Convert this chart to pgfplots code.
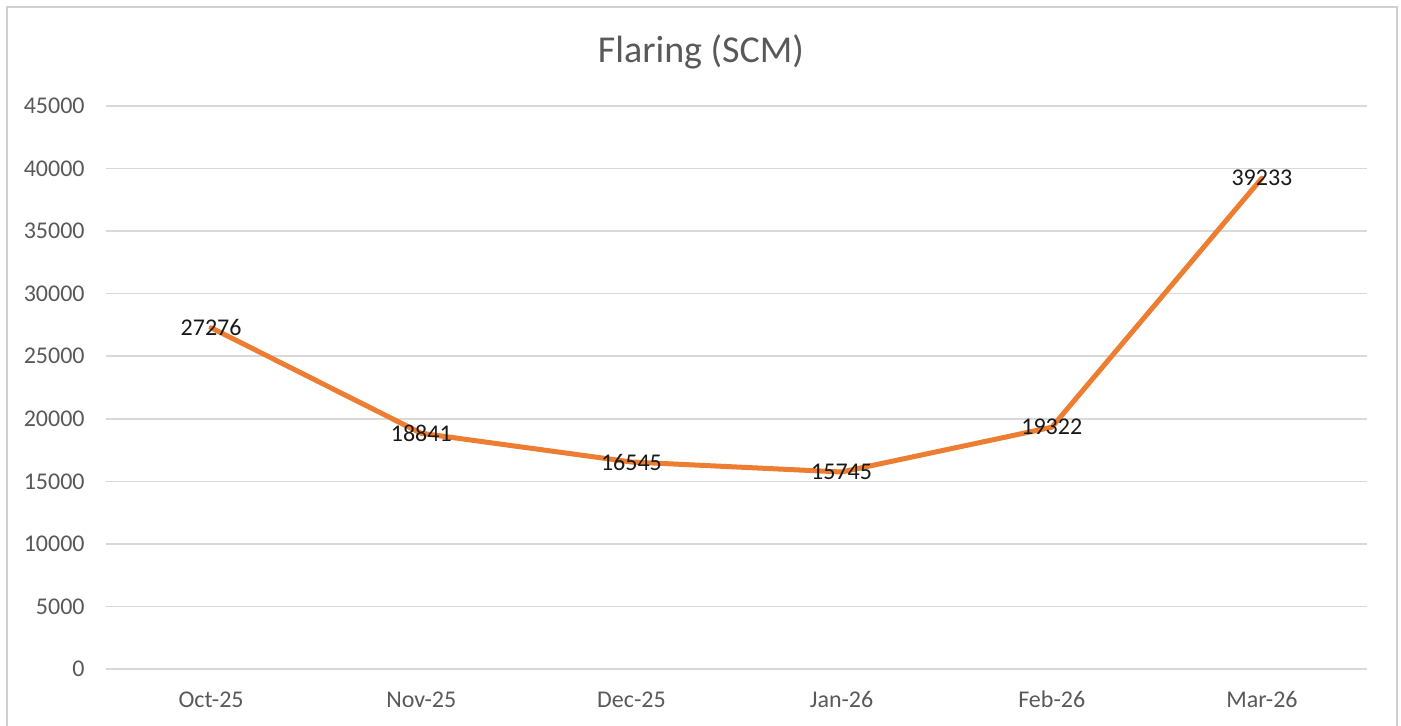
\documentclass[border=0pt]{standalone}
\usepackage{pgfplots}
\pgfplotsset{compat=1.18}
\usepackage{fontspec}
\setmainfont{Carlito}
\definecolor{linec}{HTML}{ED7D31}
\definecolor{gridc}{HTML}{D9D9D9}
\definecolor{txtc}{HTML}{595959}
\definecolor{borderc}{HTML}{D0D0D0}
\begin{document}
\begin{tikzpicture}[x=1pt,y=1pt]
\useasboundingbox (0,0) rectangle (700.5,363);
\draw[borderc, line width=0.8pt] (3.5,-2) -- (3.5,359.5) -- (698.5,359.5) -- (698.5,-2);
\node[anchor=base, text=txtc, font=\fontsize{19}{22}\selectfont] at (350.5,331.6) {Flaring (SCM)};
\begin{axis}[
  at={(53pt,28.5pt)}, anchor=south west,
  scale only axis, width=630.5pt, height=281.5pt,
  xmin=-0.5, xmax=5.5, ymin=0, ymax=45000,
  xtick={0,1,2,3,4,5},
  xticklabels={Oct-25,Nov-25,Dec-25,Jan-26,Feb-26,Mar-26},
  ytick={0,5000,10000,15000,20000,25000,30000,35000,40000,45000},
  /pgf/number format/.cd, fixed, 1000 sep={}, assume math mode=true, /pgfplots/.cd,
  axis line style={draw=none},
  major tick length=0pt,
  ymajorgrids, major grid style={gridc, line width=0.75pt},
  tick label style={font=\fontsize{12}{14}\selectfont, text=txtc, inner sep=0pt},
  yticklabel style={anchor=east, xshift=-10.5pt},
  xticklabel style={anchor=base, yshift=-19.5pt},
  scaled y ticks=false,
  clip=false,
  nodes near coords,
  every node near coord/.append style={anchor=center, font=\fontsize{12}{14}\selectfont, text=black!90, inner sep=0pt},
]
\addplot[linec, line width=2.5pt, line join=round, line cap=round, mark=none] coordinates {
  (0,27276) (1,18841) (2,16545) (3,15745) (4,19322) (5,39233)
};
\end{axis}
\end{tikzpicture}
\end{document}
